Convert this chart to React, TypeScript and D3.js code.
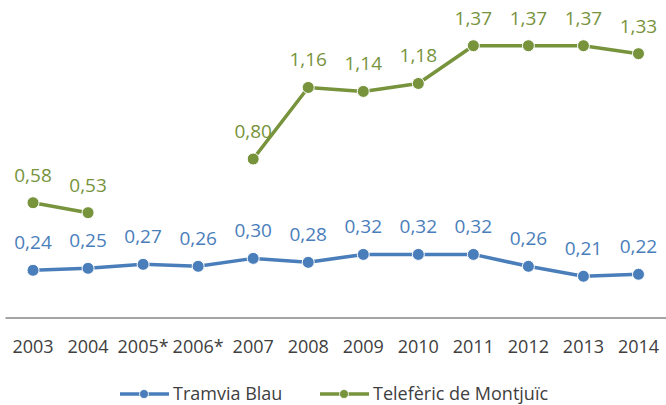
import React from 'react'
import * as d3 from 'd3'

const years = ['2003', '2004', '2005*', '2006*', '2007', '2008', '2009', '2010', '2011', '2012', '2013', '2014']
const tramviaBlau = [0.24, 0.25, 0.27, 0.26, 0.30, 0.28, 0.32, 0.32, 0.32, 0.26, 0.21, 0.22]
const telefericMontjuic: (number | null)[] = [0.58, 0.53, null, null, 0.80, 1.16, 1.14, 1.18, 1.37, 1.37, 1.37, 1.33]
const seriesNames = ['Tramvia Blau', 'Telefèric de Montjuïc']
const seriesColors = ['#4a7ebb', '#77933c']

const layout = { width: 666, height: 405, left: 5.5, right: 666, top: 0, bottom: 318 }
const font = "'Open Sans', sans-serif"

const fmt = (v: number) => v.toFixed(2).replace('.', ',')

export default function App() {
  const x = d3.scalePoint<string>()
    .domain(years)
    .range([layout.left, layout.right])
    .padding(0.5)

  const y = d3.scaleLinear()
    .domain([0, 1.6])
    .range([layout.bottom, layout.top])

  const line = d3.line<number | null>()
    .defined(d => d !== null)
    .x((d, i) => x(years[i]) as number)
    .y(d => y(d as number))

  const series = [tramviaBlau, telefericMontjuic]

  return (
    <svg width={layout.width} height={layout.height} style={{ position: 'absolute', left: 0, top: 0 }} fontFamily={font}>
      <rect width={layout.width} height={layout.height} fill="#fff" />
      {/* x axis */}
      <line x1={layout.left} x2={layout.right} y1={y(0)} y2={y(0)} stroke="#868686" strokeWidth={1.3} />
      {years.map(yr => (
        <text key={yr} x={x(yr)} y={353} textAnchor="middle" fontSize={18} fill="#404040">{yr}</text>
      ))}

      {series.map((data, s) => (
        <g key={s}>
          <path d={line(data) || ''} fill="none" stroke={seriesColors[s]} strokeWidth={3.5} strokeLinejoin="round" />
          {data.map((d, i) => d === null ? null : (
            <g key={i}>
              <circle cx={x(years[i])} cy={y(d)} r={6} fill={seriesColors[s]} stroke="#fff" strokeWidth={1} />
              <text x={x(years[i])} y={y(d) - 21} textAnchor="middle" fontSize={19} fill={seriesColors[s]}>{fmt(d)}</text>
            </g>
          ))}
        </g>
      ))}

      {/* legend */}
      {[120, 320].map((lx, s) => (
        <g key={s}>
          <line x1={lx} x2={lx + 49} y1={394} y2={394} stroke={seriesColors[s]} strokeWidth={3.5} />
          <circle cx={lx + 24} cy={394} r={4.5} fill={seriesColors[s]} stroke="#fff" strokeWidth={0.8} />
          <text x={lx + 53} y={400} fontSize={18} fill="#404040">{seriesNames[s]}</text>
        </g>
      ))}
    </svg>
  )
}
